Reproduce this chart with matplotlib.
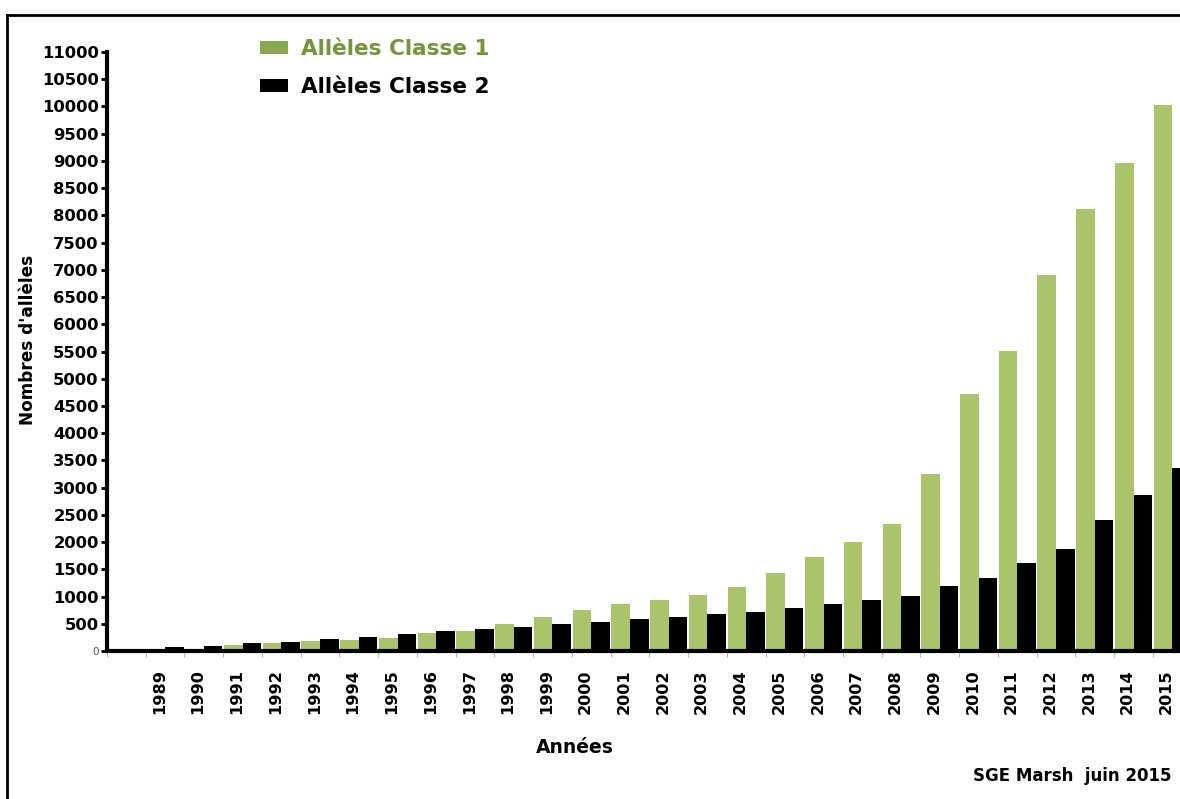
#!/usr/bin/env python3
"""Nombre d'allèles HLA classe 1 / classe 2 par année (1989-2015)."""

import numpy as np
from matplotlib import pyplot as plt
from matplotlib.lines import Line2D
from matplotlib.patches import Patch

years = [str(y) for y in range(1989, 2016)]
classe1 = [20, 45, 110, 150, 180, 210, 245, 335, 370, 490, 630, 750, 855, 930,
           1030, 1180, 1440, 1730, 2005, 2340, 3245, 4725, 5505, 6905, 8110,
           8965, 10020]
classe2 = [80, 100, 140, 170, 220, 260, 305, 370, 400, 435, 495, 540, 590, 630,
           680, 720, 795, 855, 935, 1015, 1200, 1350, 1610, 1870, 2415, 2860,
           3360]
yticks = list(range(0, 11001, 500))

GREEN = "#a9c46b"
plt.rcParams["font.family"] = ["DejaVu Sans"]

fig = plt.figure(figsize=(11.8, 7.99), dpi=100)
ax = fig.add_axes([0.0907, 0.1852, 0.9093, 0.7497])

x = np.arange(len(years))
w = 0.48
ax.bar(x - w / 2, classe1, w, color=GREEN, linewidth=0)
ax.bar(x + w / 2, classe2, w, color="black", linewidth=0)

ax.set_xlim(-1.5, 26.2)
ax.set_ylim(0, 11000)

# y axis
ax.set_yticks(yticks)
ax.set_yticklabels([str(v) for v in yticks], fontsize=11.8, fontweight="bold")
ax.tick_params(axis="y", length=4, width=2, pad=2, direction="out")
lbl0 = ax.get_yticklabels()[0]
lbl0.set_fontsize(7.5)
lbl0.set_fontweight("normal")
lbl0.set_color("#555555")

# x axis: tick marks on the category borders, labels in between
ax.set_xticks(np.arange(-1.5, 26.5, 1.0))
ax.set_xticklabels([])
ax.tick_params(axis="x", which="major", length=4, width=0.8, color="#bbbbbb")
ax.set_xticks(x - 0.15, minor=True)
ax.set_xticklabels(years, minor=True, rotation=90, fontsize=11.6,
                   fontweight="bold")
ax.tick_params(axis="x", which="minor", length=0, pad=13)

for s in ["top", "right"]:
    ax.spines[s].set_visible(False)
ax.spines["left"].set_linewidth(3)
ax.spines["bottom"].set_linewidth(3)

ax.set_ylabel("Nombres d'allèles", fontsize=12.2, fontweight="bold")
ax.yaxis.set_label_coords(-0.065, 0.52)
fig.text(0.487, 0.065, "Années", fontsize=13.5, fontweight="bold",
         ha="center", va="center")
fig.text(0.993, 0.029, "SGE Marsh  juin 2015", fontsize=12,
         fontweight="bold", ha="right", va="center")

handles = [Patch(facecolor="#8aa852", edgecolor="none"),
           Patch(facecolor="black", edgecolor="none")]
ax.legend(handles, ["Allèles Classe 1", "Allèles Classe 2"],
          loc="upper left", bbox_to_anchor=(0.143, 1.022), frameon=False,
          labelcolor=["#77933c", "black"], handlelength=1.3,
          handleheight=0.55, handletextpad=0.6, labelspacing=0.85,
          borderaxespad=0, borderpad=0,
          prop={"weight": "bold", "size": 15.5})

# frame around the picture (only top and left are visible)
fig.add_artist(Line2D([0.006, 1.0], [0.981, 0.981], color="black", lw=2))
fig.add_artist(Line2D([0.006, 0.006], [0.0, 0.981], color="black", lw=2))

fig.savefig("out.png", dpi=100)
